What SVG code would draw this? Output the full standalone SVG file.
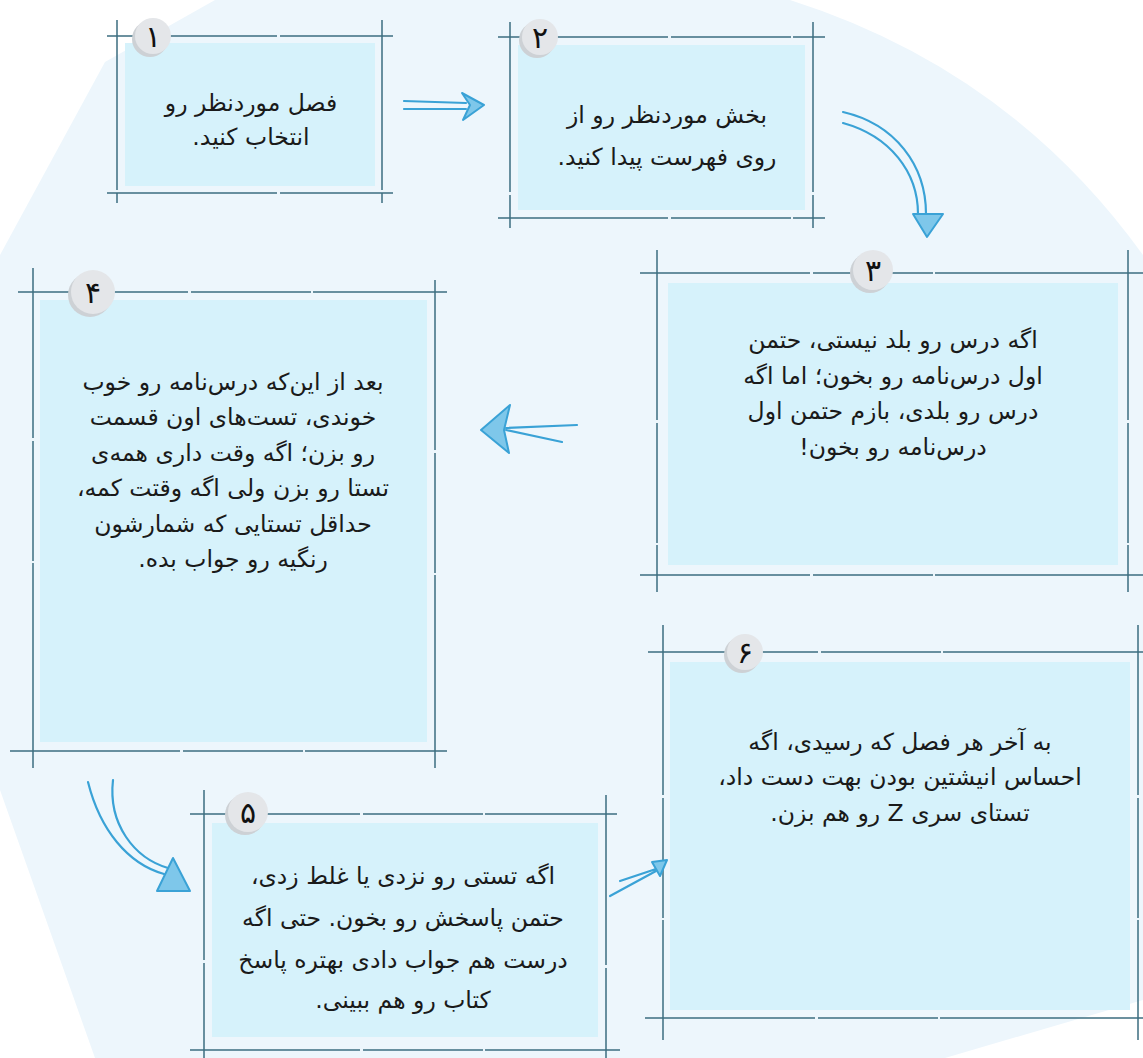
<svg xmlns="http://www.w3.org/2000/svg" width="1143" height="1058" viewBox="0 0 1143 1058">
<style>
.ln{stroke:#3d6e80;stroke-width:1.5;fill:none;stroke-dasharray:170 3 120 2 210 3 90 2}
.fill{fill:#d6f2fb}
.txt{font-family:"DejaVu Sans","Noto Sans",sans-serif;font-size:23.5px;fill:#1a1a1a;text-anchor:middle;direction:rtl}
.num{font-family:"DejaVu Sans","Noto Sans",sans-serif;font-size:30px;font-weight:normal;fill:#111;text-anchor:middle}
.bd{fill:#e4e6e9}
.bs{fill:#cdd1d5}
.ar{stroke:#3aa2d6;stroke-width:2.2;fill:none;stroke-linecap:round;stroke-linejoin:round}
.ah{stroke:#3aa2d6;stroke-width:2;fill:#7ec7ea;stroke-linejoin:round}
</style>
<rect width="1143" height="1058" fill="#ffffff"/>
<path d="M215,0 L790,0 Q1010,70 1143,255 L1143,1000 L945,1058 L95,1058 L0,790 L0,255 L105,62 Z" fill="#edf6fc"/>

<g id="node1">
<rect class="fill" x="125" y="43" width="250" height="143"/>
<path class="ln" d="M117,20 V203 M382,20 V203 M107,36 H393 M107,193 H393"/>
<circle class="bs" cx="150" cy="39" r="18"/>
<circle class="bd" cx="153" cy="36" r="18"/>
<text class="num" x="153" y="47">۱</text>
<text class="txt" x="251" y="111">فصل موردنظر رو</text>
<text class="txt" x="251" y="145">انتخاب کنید.</text>
</g>

<g id="node2">
<rect class="fill" x="518" y="45" width="287" height="165"/>
<path class="ln" d="M510,22 V228 M813,22 V228 M498,37 H825 M498,218 H825"/>
<circle class="bs" cx="537" cy="40" r="18"/>
<circle class="bd" cx="540" cy="37" r="18"/>
<text class="num" x="540" y="48">۲</text>
<text class="txt" x="667" y="123">بخش موردنظر رو از</text>
<text class="txt" x="667" y="165">روی فهرست پیدا کنید.</text>
</g>

<g id="node3">
<rect class="fill" x="668" y="283" width="450" height="282"/>
<path class="ln" d="M657,250 V592 M1128,250 V592 M640,273 H1143 M640,575 H1143"/>
<circle class="bs" cx="870" cy="273" r="20"/>
<circle class="bd" cx="873" cy="270" r="20"/>
<text class="num" x="873" y="281">۳</text>
<text class="txt" x="893" y="348">اگه درس رو بلد نیستی، حتمن</text>
<text class="txt" x="893" y="384">اول درس‌نامه رو بخون؛ اما اگه</text>
<text class="txt" x="893" y="419">درس رو بلدی، بازم حتمن اول</text>
<text class="txt" x="893" y="455">درس‌نامه رو بخون!</text>
</g>

<g id="node4">
<rect class="fill" x="40" y="300" width="387" height="442"/>
<path class="ln" d="M33,268 V768 M435,280 V768 M18,292 H447 M10,751 H447"/>
<circle class="bs" cx="90" cy="295" r="22"/>
<circle class="bd" cx="93" cy="292" r="22"/>
<text class="num" x="93" y="303">۴</text>
<text class="txt" x="233" y="390">بعد از این‌که درس‌نامه رو خوب</text>
<text class="txt" x="233" y="425">خوندی، تست‌های اون قسمت</text>
<text class="txt" x="233" y="461">رو بزن؛ اگه وقت داری همه‌ی</text>
<text class="txt" x="233" y="496">تستا رو بزن ولی اگه وقتت کمه،</text>
<text class="txt" x="233" y="532">حداقل تستایی که شمارشون</text>
<text class="txt" x="233" y="567">رنگیه رو جواب بده.</text>
</g>

<g id="node5">
<rect class="fill" x="212" y="823" width="386" height="214"/>
<path class="ln" d="M204,790 V1058 M606,795 V1058 M190,814 H617 M190,1050 H620"/>
<circle class="bs" cx="245" cy="815" r="20"/>
<circle class="bd" cx="248" cy="812" r="20"/>
<text class="num" x="248" y="823">۵</text>
<text class="txt" x="403" y="884">اگه تستی رو نزدی یا غلط زدی،</text>
<text class="txt" x="403" y="926">حتمن پاسخش رو بخون. حتی اگه</text>
<text class="txt" x="403" y="968">درست هم جواب دادی بهتره پاسخ</text>
<text class="txt" x="403" y="1008">کتاب رو هم ببینی.</text>
</g>

<g id="node6">
<rect class="fill" x="670" y="662" width="460" height="348"/>
<path class="ln" d="M663,625 V1040 M1138,625 V1040 M648,652 H1143 M645,1018 H1143"/>
<circle class="bs" cx="742" cy="655" r="18"/>
<circle class="bd" cx="745" cy="652" r="18"/>
<text class="num" x="745" y="663">۶</text>
<text class="txt" x="900" y="750">به آخر هر فصل که رسیدی، اگه</text>
<text class="txt" x="900" y="785">احساس انیشتین بودن بهت دست داد،</text>
<text class="txt" x="900" y="821">تستای سری Z رو هم بزن.</text>
</g>

<g id="connectors">
<path class="ar" d="M404,101 L466,103 M404,109 L466,109"/>
<path class="ah" d="M462,93 L484,105 L463,120 L470,105 Z"/>
<path class="ar" d="M843,112 C895,124 926,165 926,214 M843,123 C890,136 918,172 918,214"/>
<path class="ah" d="M913,214 L943,214 L927,237 Z"/>
<path class="ar" d="M577,425 L506,428 M562,442 L506,430"/>
<path class="ah" d="M510,405 L481,430 L509,453 L504,430 Z"/>
<path class="ar" d="M88,782 C100,830 128,864 164,874 M113,780 C108,824 134,858 168,868"/>
<path class="ah" d="M157,891 L173,858 L190,891 Z"/>
<path class="ar" d="M610,896 L656,871 M620,881 L656,869"/>
<path class="ah" d="M652,862 L667,860 L660,876 Z"/>
</g>
</svg>
